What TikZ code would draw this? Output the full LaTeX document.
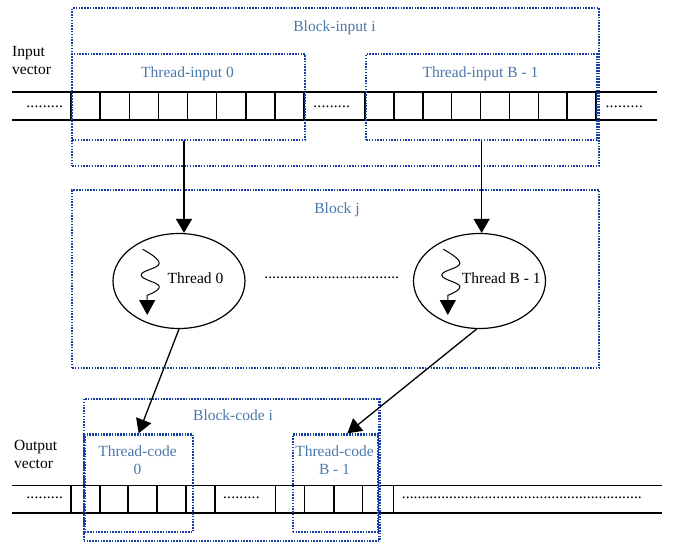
\documentclass[tikz,border=0pt]{standalone}
\usepackage{fontspec}
\setmainfont{Liberation Serif}
\usetikzlibrary{arrows.meta,shapes.geometric}
\definecolor{boxblue}{HTML}{153FA3}
\definecolor{lblblue}{HTML}{4A78AC}
\newcommand\dotrun[1]{\hbox to #1{\xleaders\hbox to 3.9pt{\hss.\hss}\hfill}}
\begin{document}
\begin{tikzpicture}[x=1pt,y=-1pt,
  every node/.style={font=\fontsize{15.5}{18.3}\selectfont, inner sep=0pt},
  bluebox/.style={draw=boxblue, line width=2.3pt, dash pattern=on 1.5pt off 1.3pt, anchor=north west, inner sep=0pt},
  lbl/.style={text=lblblue, anchor=base},
  txt/.style={anchor=base},
  cell/.style={line width=1.6pt},
  arr/.style={line width=1.3pt, -{Triangle[length=14pt,width=16pt]}},
  thr/.style={draw, ellipse, line width=1.2pt, minimum width=132pt, minimum height=95pt},
  wave/.pic={\draw[line width=1pt, -{Triangle[length=15pt,width=16pt]}] plot[smooth,tension=0.75] coordinates {(0,0) (16.5,14) (-1.5,25.7) (16.5,37) (4.5,46)} -- (4.5,65.7);}]

\useasboundingbox (0,0) rectangle (675,542);

% input vector
\draw[line width=1.8pt] (12,92) -- (657,92);
\draw[line width=1.3pt] (12,120) -- (657,120);
\foreach \x in {71,100.1,129.3,158.4,187.5,216.6,245.8,274.9,304}
  \draw[cell] (\x,92) -- (\x,120);
\foreach \x in {365,393.9,422.8,451.6,480.5,509.4,538.3,567.1,596}
  \draw[cell] (\x,92) -- (\x,120);

% output vector
\draw[line width=1.8pt] (12,485.5) -- (662,485.5);
\draw[line width=1.8pt] (12,512.7) -- (662,512.7);
\foreach \x in {71,100,128,157,186,215,275.5,304.5,334,362.5,393.5}
  \draw[cell] (\x,485.5) -- (\x,512.7);

% dotted boxes
\node[bluebox, minimum width=527pt, minimum height=158pt] (bi) at (71,7) {};
\node[bluebox, minimum width=233pt, minimum height=86pt] (ti0) at (71,53) {};
\node[bluebox, minimum width=231pt, minimum height=86pt] (ti1) at (365,53) {};
\node[bluebox, minimum width=527pt, minimum height=178pt] (bj) at (71,189) {};
\node[bluebox, minimum width=295.6pt, minimum height=142.3pt] (bc) at (82.7,397.7) {};
\node[bluebox, minimum width=108.4pt, minimum height=97.7pt] (tc0) at (83.3,433.3) {};
\node[bluebox, minimum width=85pt, minimum height=97.7pt] (tc1) at (291.7,433.3) {};

% threads
\node[thr] (t0) at (179,281) {};
\node[thr] (t1) at (479.5,281) {};
\pic at (142.7,249.3) {wave};
\pic at (443.3,249.3) {wave};

% arrows
\draw[arr] ([xshift=5pt]t0.north |- ti0.south) -- ([xshift=5pt]t0.north);
\draw[arr] (ti1.south) -- (ti1.south |- t1.north);
\draw[arr] (t0.south) -- (tc0.north);
\draw[arr] ([xshift=-3pt]t1.south) -- ([xshift=12pt]tc1.north);

% labels
\node[lbl] (lbi) at (334.5,31) {Block-input i};
\node[lbl] (lti0) at (187.5,77) {Thread-input 0};
\node[lbl] (lti1) at (480.5,77) {Thread-input B - 1};
\node[lbl] (lbj) at (337,213) {Block j};
\node[lbl] (lbc) at (233,420.7) {Block-code i};
\node[text=lblblue, align=center] (ltc0) at (137.5,460) {Thread-code\\0};
\node[text=lblblue, align=center] (ltc1) at (334.5,460) {Thread-code\\B - 1};
\node[align=left, anchor=west] (iv) at (12,60.5) {Input\\vector};
\node[align=left, anchor=west] (ov) at (14,454.2) {Output\\vector};
\node[txt] (l0) at (195.5,283) {Thread 0};
\node[txt] (l1) at (501.3,283) {Thread B - 1};

% dots
\node[anchor=west] (d1) at (26,106.7) {\dotrun{37pt}};
\node[anchor=west] (d2) at (313,106.7) {\dotrun{37pt}};
\node[anchor=west] (d3) at (605,106.7) {\dotrun{38pt}};
\node[anchor=west] (d4) at (264,277.7) {\dotrun{135pt}};
\node[anchor=west] (d5) at (26,497.3) {\dotrun{37pt}};
\node[anchor=west] (d6) at (222.7,497.3) {\dotrun{37pt}};
\node[anchor=west] (d7) at (401.7,497.3) {\dotrun{240pt}};
\end{tikzpicture}
\end{document}
